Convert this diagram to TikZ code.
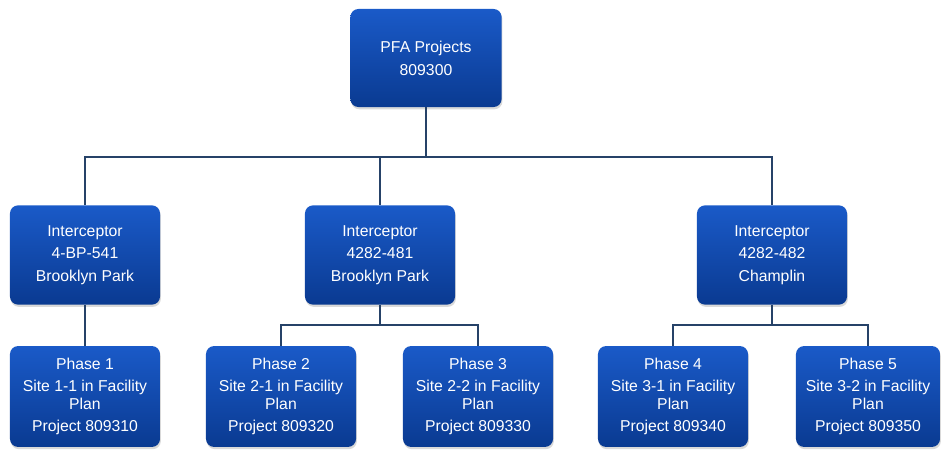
\documentclass[tikz,border=0pt]{standalone}
\usepackage{fontspec}
\setmainfont{Liberation Sans}
\usetikzlibrary{shadows}

\definecolor{boxtop}{RGB}{26,90,200}
\definecolor{boxbot}{RGB}{10,58,145}
\definecolor{linkcol}{RGB}{38,66,104}

\tikzset{
  unit/.style={rounded corners=0.2cm, top color=boxtop, bottom color=boxbot,
    text=white, align=center, minimum width=3.75cm, minimum height=2.48cm,
    inner sep=0pt, font=\fontsize{11.2}{16.2}\selectfont,
    drop shadow={shadow xshift=0.6pt, shadow yshift=-1.6pt, opacity=0.3}},
  phasebox/.style={unit, minimum height=2.52cm},
  link/.style={draw=linkcol, line width=1.4pt}
}

\begin{document}
\begin{tikzpicture}[x=0.025cm, y=-0.025cm]

  % frame of the picture (pixel grid)
  \useasboundingbox (0,0) rectangle (941,452);

  % top
  \node[unit, minimum height=2.45cm, minimum width=3.78cm] (pfa) at (426,58) {PFA Projects\\809300};

  % interceptors
  \node[unit] (bp541) at (85,255) {Interceptor\\4-BP-541\\Brooklyn Park};
  \node[unit] (bp481) at (380,255) {Interceptor\\4282-481\\Brooklyn Park};
  \node[unit] (ch482) at (772,255) {Interceptor\\4282-482\\Champlin};

  % phases
  \node[phasebox] (ph1) at (85,396.5) {Phase 1\\Site 1-1 in Facility\\[-4pt]Plan\\Project 809310};
  \node[phasebox] (ph2) at (281,396.5) {Phase 2\\Site 2-1 in Facility\\[-4pt]Plan\\Project 809320};
  \node[phasebox] (ph3) at (478,396.5) {Phase 3\\Site 2-2 in Facility\\[-4pt]Plan\\Project 809330};
  \node[phasebox] (ph4) at (673,396.5) {Phase 4\\Site 3-1 in Facility\\[-4pt]Plan\\Project 809340};
  \node[phasebox, minimum width=3.6cm] (ph5) at (868,396.5) {Phase 5\\Site 3-2 in Facility\\[-4pt]Plan\\Project 809350};

  % links
  \foreach \n in {bp541,bp481,ch482}
    \draw[link] (pfa.south) -- ++(0,50) -| (\n.north);
  \draw[link] (bp541.south) -- (ph1.north);
  \foreach \n in {ph2,ph3}
    \draw[link] (bp481.south) -- ++(0,20) -| (\n.north);
  \foreach \n in {ph4,ph5}
    \draw[link] (ch482.south) -- ++(0,20) -| (\n.north);

\end{tikzpicture}
\end{document}
